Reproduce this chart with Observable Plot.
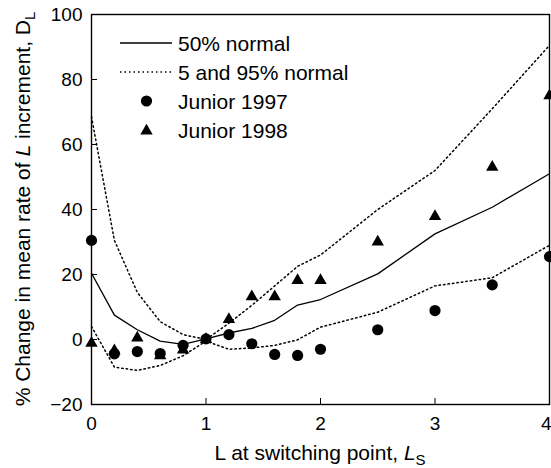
<!DOCTYPE html>
<html>
<head>
<meta charset="utf-8">
<script src="https://cdn.jsdelivr.net/npm/d3@7"></script>
<script src="https://cdn.jsdelivr.net/npm/@observablehq/plot@0.6"></script>
<style>
  html, body { margin: 0; padding: 0; background: #fff; overflow: hidden; }
  #chart { position: relative; width: 551px; height: 468px; }
  #chart svg { overflow: hidden; }
</style>
</head>
<body>
<div id="chart"></div>
<script>
// L at switching point (x values)
const lsGrid = [0, 0.2, 0.4, 0.6, 0.8, 1.0, 1.2, 1.4, 1.6, 1.8, 2.0, 2.5, 3.0, 3.5, 4.0];
// 50% normal (solid line)
const median50 = [20.4, 7.5, 3.0, -0.5, -1.5, 0.2, 2.0, 3.4, 5.9, 10.6, 12.3, 20.2, 32.5, 40.7, 51.0];
// 95% normal (upper dotted)
const upper95 = [68.5, 30.5, 14.5, 5.5, 1.5, 0.0, 5.0, 10.5, 16.5, 22.5, 26.0, 40.0, 52.0, 71.0, 90.5];
// 5% normal (lower dotted)
const lower05 = [4.0, -8.5, -9.5, -8.0, -5.0, -0.5, -3.0, -2.6, -1.8, -0.1, 3.8, 8.4, 16.5, 19.0, 29.0];
// Junior 1997 (circles)
const junior1997 = [30.5, -4.4, -3.7, -4.3, -1.8, 0.2, 1.5, -1.3, -4.6, -4.9, -3.0, 3.0, 8.9, 16.8, 25.5];
// Junior 1998 (triangles)
const junior1998 = [-1.1, -3.4, 0.5, -5.0, -3.2, 0.0, 6.2, 13.2, 13.2, 18.2, 18.2, 30.0, 37.9, 53.0, 75.0];

const xTicks = [0, 1, 2, 3, 4];
const yTicks = [-20, 0, 20, 40, 60, 80, 100];
const legendLabels = ["50% normal", "5 and 95% normal", "Junior 1997", "Junior 1998"];

const rows = (vals) => lsGrid.map((x, i) => ({x, y: vals[i]}));

const font = '"Liberation Sans", Arial, Helvetica, sans-serif';
const lastX = xTicks[xTicks.length - 1];

const chart = Plot.plot({
  width: 551,
  height: 468,
  marginLeft: 91,
  marginRight: 2,
  marginTop: 14,
  marginBottom: 64,
  style: {fontFamily: font, fontSize: "19px", color: "black", background: "white"},
  x: {domain: [0, 4], label: null},
  y: {domain: [-20, 100], label: null},
  marks: [
    Plot.frame({stroke: "black", strokeWidth: 1.4}),
    Plot.axisX({ticks: xTicks, tickSize: -6, tickPadding: 18, tickFormat: d => d === lastX ? "" : String(d), label: null, fontSize: 19}),
    Plot.axisX({ticks: [lastX], tickSize: 0, tickPadding: 12, tickFormat: d => String(d), textAnchor: "end", dx: 2, label: null, fontSize: 19}),
    Plot.axisY({ticks: yTicks, tickSize: -6, tickPadding: 15, tickFormat: d => d < 0 ? "\u2212" + Math.abs(d) : String(d), label: null, fontSize: 19}),
    Plot.line(rows(upper95), {x: "x", y: "y", stroke: "black", strokeWidth: 1.5, strokeDasharray: "1.5,3"}),
    Plot.line(rows(lower05), {x: "x", y: "y", stroke: "black", strokeWidth: 1.5, strokeDasharray: "1.5,3"}),
    Plot.line(rows(median50), {x: "x", y: "y", stroke: "black", strokeWidth: 1.3}),
    Plot.dot(rows(junior1997), {x: "x", y: "y", r: 5.6, fill: "black", stroke: "none"}),
    Plot.dot(rows(junior1998), {x: "x", y: "y", r: 4.6, symbol: "triangle", fill: "black", stroke: "none"})
  ]
});

document.getElementById("chart").appendChild(chart);

// Axis titles and legend
const svg = d3.select(chart);
const g = svg.append("g").attr("font-family", font).attr("fill", "black");

// Y axis title
const yt = g.append("text")
  .attr("transform", "translate(30,209) rotate(-90)")
  .attr("text-anchor", "middle")
  .attr("font-size", 21);
yt.append("tspan").text("% Change in mean rate of ");
yt.append("tspan").attr("font-style", "italic").text("L");
yt.append("tspan").text(" increment, D");
yt.append("tspan").attr("font-size", 15).attr("dy", "0.35em").text("L");

// X axis title
const xt = g.append("text")
  .attr("x", 320).attr("y", 460)
  .attr("text-anchor", "middle")
  .attr("font-size", 21);
xt.append("tspan").text("L at switching point, ");
xt.append("tspan").attr("font-style", "italic").text("L");
xt.append("tspan").attr("font-size", 15).attr("dy", "0.35em").text("S");

// Legend
const lg = g.append("g").attr("text-anchor", "start");
const rowsY = [43, 72, 101, 130];
lg.append("line").attr("x1", 120).attr("x2", 172).attr("y1", rowsY[0]).attr("y2", rowsY[0])
  .attr("stroke", "black").attr("stroke-width", 1.3);
lg.append("line").attr("x1", 120).attr("x2", 172).attr("y1", rowsY[1]).attr("y2", rowsY[1])
  .attr("stroke", "black").attr("stroke-width", 1.5).attr("stroke-dasharray", "1.5,3");
lg.append("circle").attr("cx", 146.5).attr("cy", rowsY[2]).attr("r", 5.6).attr("fill", "black");
lg.append("path").attr("d", d3.symbol(d3.symbolTriangle, Math.PI * 4.6 * 4.6)())
  .attr("transform", `translate(146.5,${rowsY[3] + 1})`).attr("fill", "black");
legendLabels.forEach((t, i) => {
  lg.append("text").attr("x", 178).attr("y", rowsY[i]).attr("dy", "0.36em")
    .attr("text-anchor", "start").attr("font-size", 21).text(t);
});
</script>
</body>
</html>
